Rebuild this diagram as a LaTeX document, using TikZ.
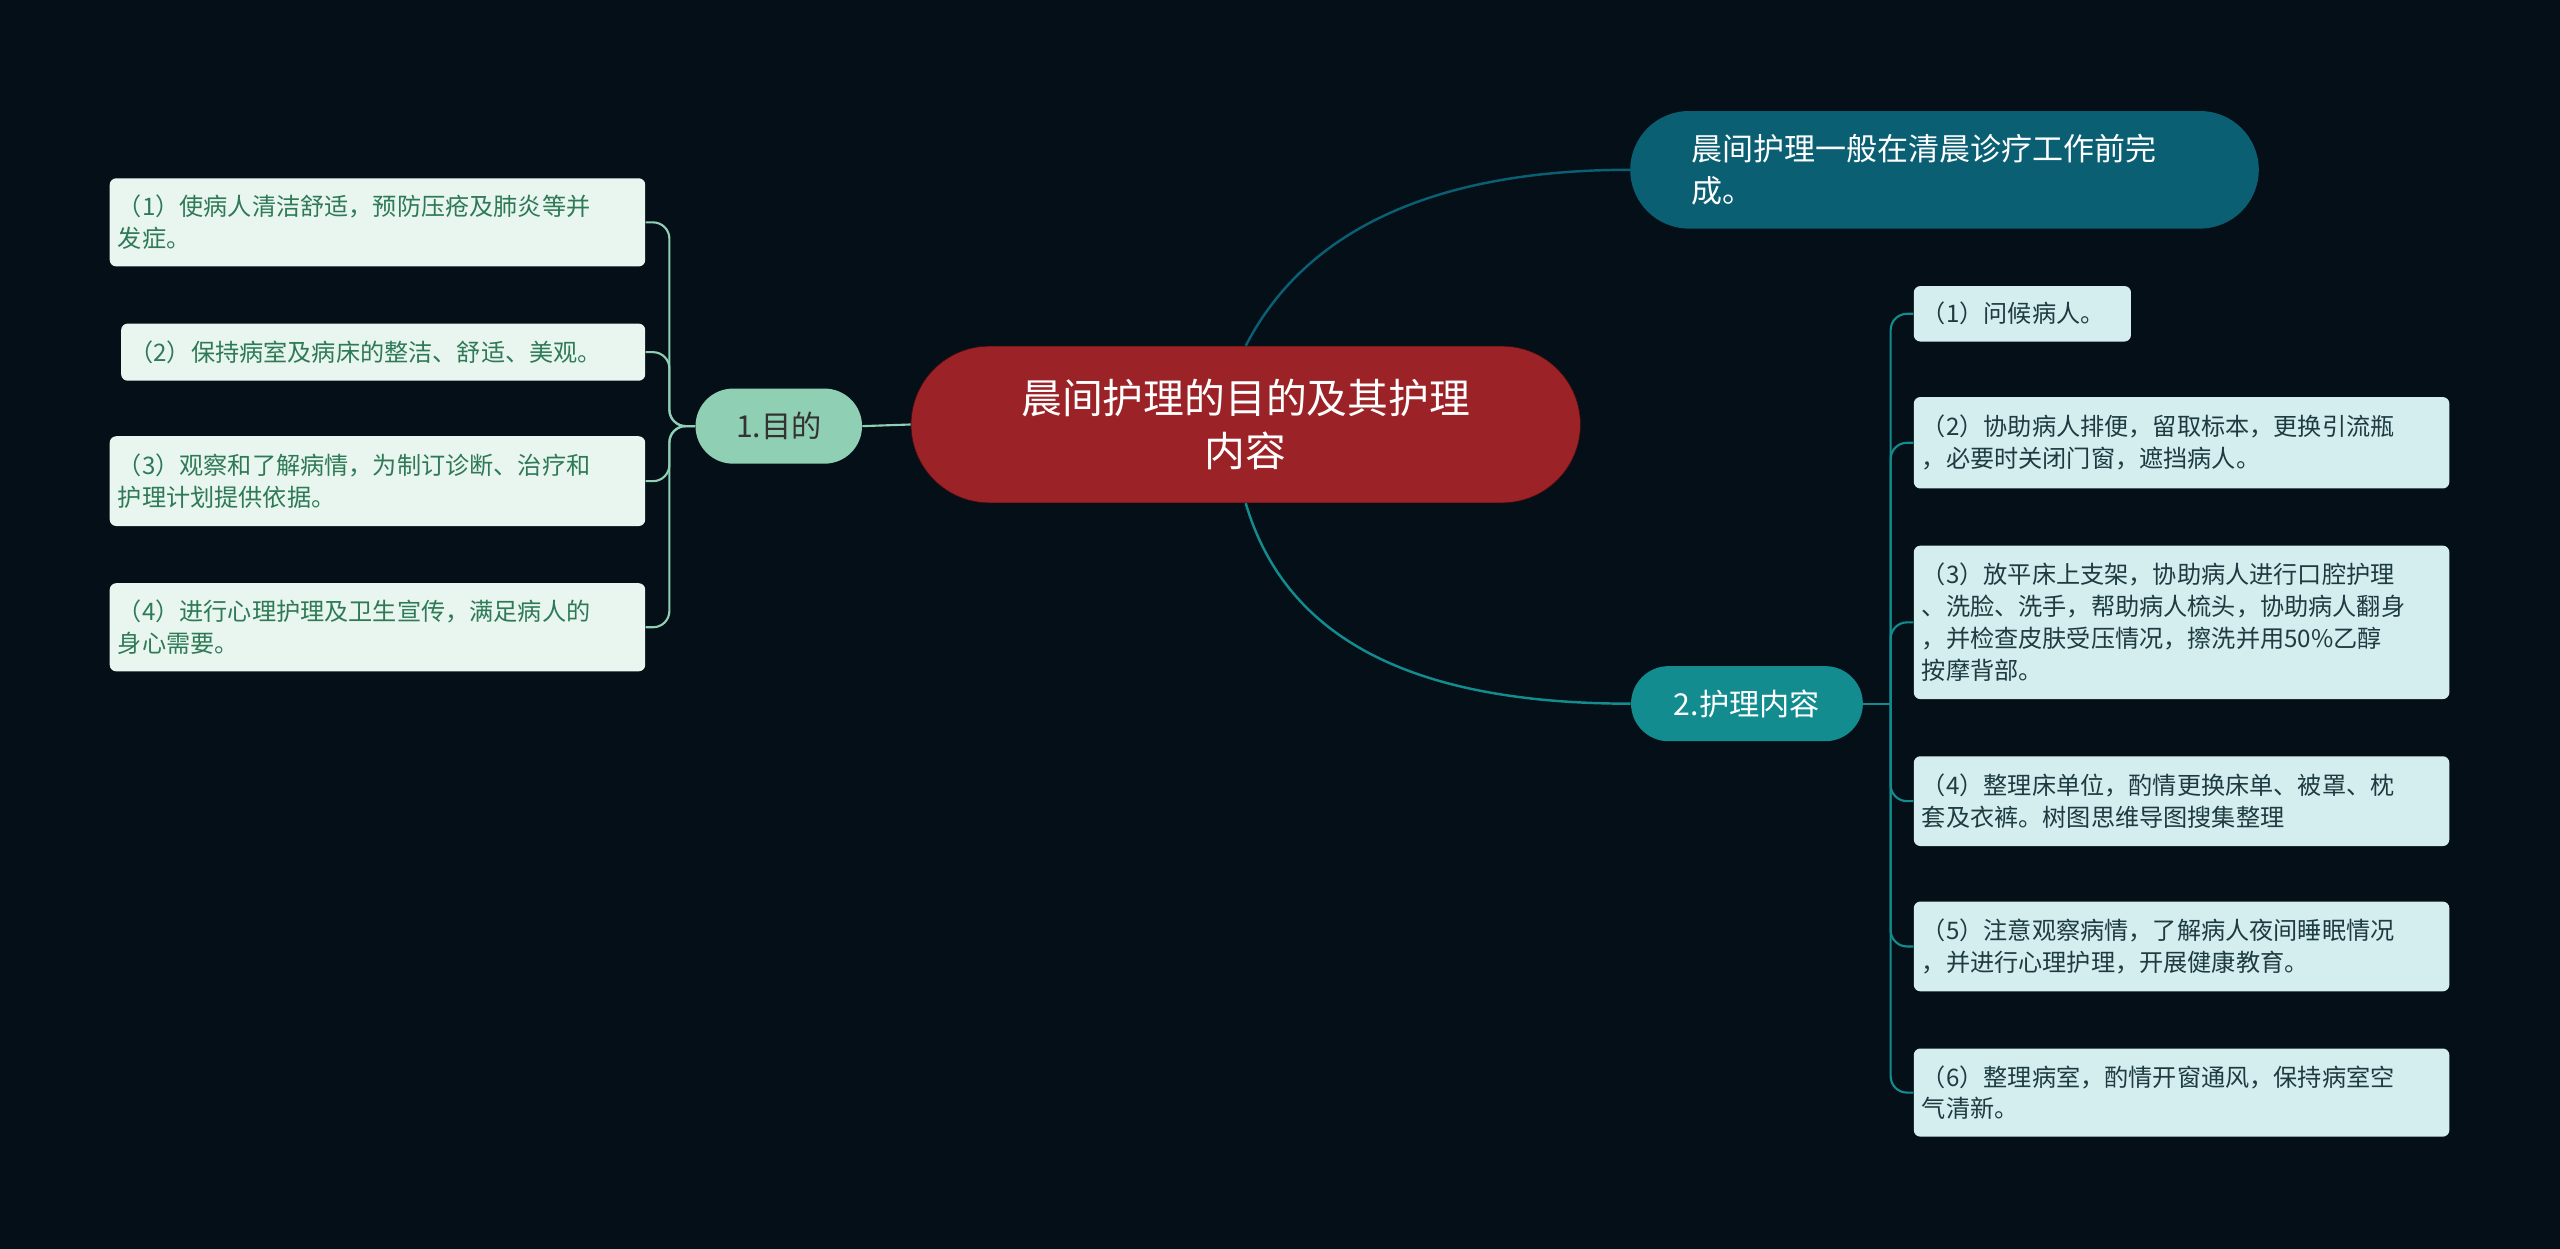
\documentclass[tikz,border=0pt]{standalone}
\usepackage{fontspec}
\setmainfont{Noto Sans CJK SC}
\begin{document}
\begin{tikzpicture}[x=1pt,y=-1pt,
 lleaf/.style={draw=none,fill=lfill,rounded corners=4,align=left,text=ltext,font=\fontsize{14.8}{19.5}\selectfont,inner xsep=5,inner ysep=4,anchor=north west},
 rleaf/.style={draw=none,fill=rfill,rounded corners=4,align=left,text=rtext,font=\fontsize{14.8}{19.5}\selectfont,inner xsep=5,inner ysep=4,anchor=north west},
 lline/.style={draw=mint,line width=1.3,rounded corners=10},
 rline/.style={draw=teal2,line width=1.3,rounded corners=10}]
\definecolor{bg}{HTML}{040F17}
\definecolor{lfill}{HTML}{E9F5EF}
\definecolor{ltext}{HTML}{2E7A56}
\definecolor{rfill}{HTML}{D4EEF0}
\definecolor{rtext}{HTML}{1D3B40}
\definecolor{mint}{HTML}{8FCFB3}
\definecolor{teal2}{HTML}{128C8F}
\definecolor{dteal}{HTML}{0A5F73}
\definecolor{cred}{HTML}{9B2226}
\fill[bg] (0,0) rectangle (1568,765);
\useasboundingbox (0,0) rectangle (1568,765);
\node[fill=cred,draw=black!60!cred,rounded corners=48,minimum width=410,minimum height=96,text=white,align=center,font=\fontsize{25}{33}\selectfont] (c) at (763,260) {晨间护理的目的及其护理\\内容};
\node[fill=mint,rounded corners=23,minimum width=102,minimum height=46,text=black!80,font=\fontsize{18.5}{22}\selectfont] (b1) at (477,261) {1.目的};
\node[fill=dteal,rounded corners=36,minimum width=385,minimum height=72,text=white,align=left,text width=310,font=\fontsize{19}{26}\selectfont] (t) at (1191,104) {晨间护理一般在清晨诊疗工作前完\\成。};
\node[fill=teal2,rounded corners=23,minimum width=142,minimum height=46,text=white,font=\fontsize{18.5}{22}\selectfont] (b2) at (1070,431) {2.护理内容};
% left leaves
\node[lleaf,text width=318,minimum height=54] (l1) at (67,109) {（1）使病人清洁舒适，预防压疮及肺炎等并\\发症。};
\node[lleaf,text width=311,minimum height=35] (l2) at (74,198) {（2）保持病室及病床的整洁、舒适、美观。};
\node[lleaf,text width=318,minimum height=55] (l3) at (67,267) {（3）观察和了解病情，为制订诊断、治疗和\\护理计划提供依据。};
\node[lleaf,text width=318,minimum height=54] (l4) at (67,357) {（4）进行心理护理及卫生宣传，满足病人的\\身心需要。};
% right leaves
\node[rleaf,text width=123,minimum height=34] (r1) at (1172,175) {（1）问候病人。};
\node[rleaf,text width=318,minimum height=56] (r2) at (1172,243) {（2）协助病人排便，留取标本，更换引流瓶\\，必要时关闭门窗，遮挡病人。};
\node[rleaf,text width=318,minimum height=94] (r3) at (1172,334) {（3）放平床上支架，协助病人进行口腔护理\\、洗脸、洗手，帮助病人梳头，协助病人翻身\\，并检查皮肤受压情况，擦洗并用50\%乙醇\\按摩背部。};
\node[rleaf,text width=318,minimum height=55] (r4) at (1172,463) {（4）整理床单位，酌情更换床单、被罩、枕\\套及衣裤。树图思维导图搜集整理};
\node[rleaf,text width=318,minimum height=55] (r5) at (1172,552) {（5）注意观察病情，了解病人夜间睡眠情况\\，并进行心理护理，开展健康教育。};
\node[rleaf,text width=318,minimum height=54] (r6) at (1172,642) {（6）整理病室，酌情开窗通风，保持病室空\\气清新。};
% connectors
\draw[draw=mint,line width=1.3] (c.west) -- (b1.east);
\coordinate (jl) at (410,261);
\foreach \n in {l1,l2,l3,l4}{\draw[lline] (\n.east) -| (jl) -- (b1.west);}
\draw[draw=dteal,line width=1.5] (c.north) .. controls (800,140) and (880,104) .. (t.west);
\draw[draw=teal2,line width=1.5] (c.south) .. controls (790,400) and (880,431) .. (b2.west);
\coordinate (jr) at (1158,431);
\draw[draw=teal2,line width=1.3] (b2.east) -- (jr);
\foreach \n in {r1,r2,r3,r4,r5,r6}{\draw[rline] (jr) |- (\n.west);}
\end{tikzpicture}
\end{document}
